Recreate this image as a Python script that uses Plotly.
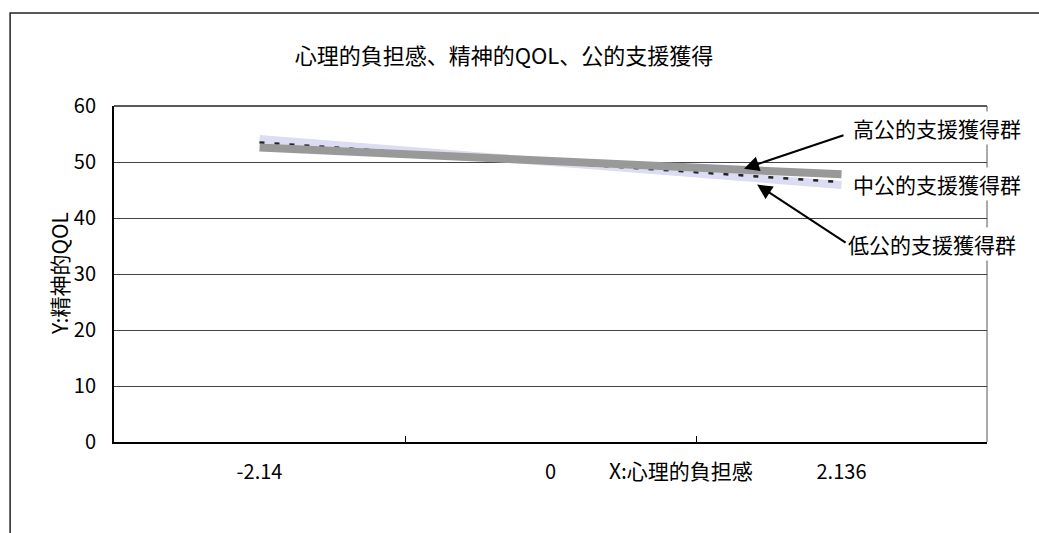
import plotly.graph_objects as go

# Category axis (X: 心理的負担感) and simple-slope values for each group
x_categories = ["-2.14", "0", "2.136"]
x_points = ["-2.14", "2.136"]
y_high = [52.6, 47.8]   # 高公的支援獲得群
y_mid = [53.5, 46.4]    # 中公的支援獲得群
y_low = [54.1, 45.9]    # 低公的支援獲得群
y_ticks = [0, 10, 20, 30, 40, 50, 60]

title_text = "心理的負担感、精神的QOL、公的支援獲得"
x_title = "X:心理的負担感"
y_title = "Y:精神的QOL"
label_high = "高公的支援獲得群"
label_mid = "中公的支援獲得群"
label_low = "低公的支援獲得群"

FONT = "Noto Sans CJK JP"

fig = go.Figure()

# drawing order: low (bottom), mid dashed, high on top
fig.add_trace(go.Scatter(
    x=x_points, y=y_low, mode="lines", name=label_low,
    line=dict(color="#dcdcf2", width=8), showlegend=False, hoverinfo="skip"))
fig.add_trace(go.Scatter(
    x=x_points, y=y_mid, mode="lines", name=label_mid,
    line=dict(color="#222222", width=2.5, dash="5px,10px"), showlegend=False, hoverinfo="skip"))
fig.add_trace(go.Scatter(
    x=x_points, y=y_high, mode="lines", name=label_high,
    line=dict(color="#999999", width=8), showlegend=False, hoverinfo="skip"))

fig.update_xaxes(
    type="category", categoryorder="array", categoryarray=x_categories,
    range=[-0.5, 2.5], showgrid=False, zeroline=False,
    showline=True, linecolor="#000000", linewidth=2,
    ticks="inside", tickson="boundaries", ticklen=6, tickcolor="#000000", tickwidth=1,
    tickfont=dict(family=FONT, size=20, color="#000000"),
    ticklabelstandoff=11,
)
fig.update_yaxes(
    range=[0, 60], tickvals=y_ticks, showgrid=True, gridcolor="#444444", gridwidth=1,
    zeroline=False, showline=True, linecolor="#000000", linewidth=2,
    ticks="", tickfont=dict(family=FONT, size=20, color="#000000"),
    ticklabelstandoff=12,
)

shapes = [
    # top and right edges of the plot area
    dict(type="line", xref="paper", yref="paper", x0=0, x1=1, y0=1, y1=1,
         line=dict(color="#222222", width=1.5), layer="below"),
    dict(type="line", xref="paper", yref="paper", x0=1, x1=1, y0=0, y1=1,
         line=dict(color="#555555", width=1), layer="below"),
    # outer chart frame
    dict(type="rect", xref="paper", yref="paper", x0=-0.119, x1=1.07, y0=-0.31, y1=1.277,
         line=dict(color="#222222", width=1.5), fillcolor="rgba(0,0,0,0)", layer="below"),
]

annotations = [
    dict(text=x_title, xref="paper", yref="paper", x=0.6495, y=-0.0833,
         xanchor="center", yanchor="middle", showarrow=False,
         font=dict(family=FONT, size=21, color="#000000")),
    dict(text=y_title, xref="paper", yref="paper", x=-0.063, y=0.5, textangle=-90,
         xanchor="center", yanchor="middle", showarrow=False,
         font=dict(family=FONT, size=21, color="#000000")),
    # arrows pointing at the high / low lines
    dict(text="", x=1.665, y=48.8, xref="x", yref="y", ax=101, ay=-34,
         showarrow=True, arrowhead=2, arrowsize=1.5, arrowwidth=2, arrowcolor="#000000"),
    dict(text="", x=1.71, y=45.97, xref="x", yref="y", ax=90, ay=59,
         showarrow=True, arrowhead=2, arrowsize=1.5, arrowwidth=2, arrowcolor="#000000"),
    # group labels
    dict(text=label_high, xref="paper", yref="paper", x=(851 - 114) / 873, y=(442 - 128) / 336,
         xanchor="left", yanchor="middle", showarrow=False, bgcolor="#ffffff",
         font=dict(family=FONT, size=21, color="#000000")),
    dict(text=label_mid, xref="paper", yref="paper", x=(851 - 114) / 873, y=(442 - 184) / 336,
         xanchor="left", yanchor="middle", showarrow=False, bgcolor="#ffffff",
         font=dict(family=FONT, size=21, color="#000000")),
    dict(text=label_low, xref="paper", yref="paper", x=(846 - 114) / 873, y=(442 - 244) / 336,
         xanchor="left", yanchor="middle", showarrow=False, bgcolor="#ffffff",
         font=dict(family=FONT, size=21, color="#000000")),
]

fig.update_layout(
    width=1039, height=533,
    margin=dict(l=114, r=52, t=106, b=91),
    paper_bgcolor="#ffffff", plot_bgcolor="#ffffff",
    title=dict(text=title_text, x=504 / 1039, y=1 - 56 / 533, xanchor="center", yanchor="middle",
               xref="container", yref="container",
               font=dict(family=FONT, size=22, color="#000000")),
    shapes=shapes, annotations=annotations,
)

fig.write_html("out.html")
